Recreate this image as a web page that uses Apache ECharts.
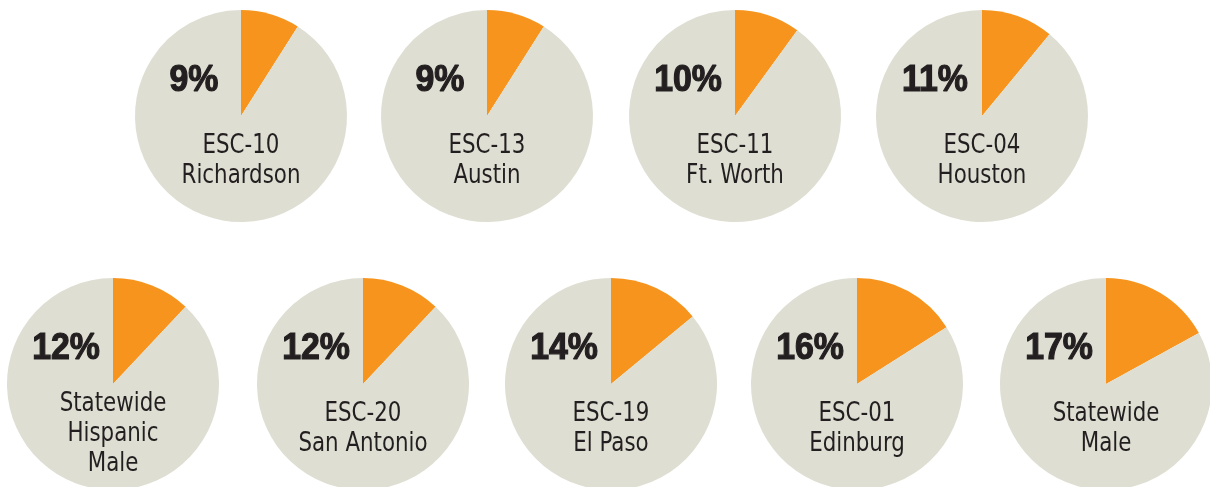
<!DOCTYPE html>
<html>
<head>
<meta charset="utf-8">
<script src="https://cdn.jsdelivr.net/npm/echarts@6/dist/echarts.min.js"></script>
<style>
  html, body { margin: 0; padding: 0; background: #fff; }
  #chart { width: 1210px; height: 487px; }
</style>
</head>
<body>
<div id="chart"></div>
<script>
// share of each group (percent)
const regions = [
  'ESC-10\nRichardson', 'ESC-13\nAustin', 'ESC-11\nFt. Worth', 'ESC-04\nHouston',
  'Statewide\nHispanic\nMale', 'ESC-20\nSan Antonio', 'ESC-19\nEl Paso', 'ESC-01\nEdinburg', 'Statewide\nMale'
];
const shares = [9, 9, 10, 11, 12, 12, 14, 16, 17];

// layout of the pies
const centersX = [241, 487, 735, 982, 113, 363, 611, 857, 1106];
const centersY = [116, 116, 116, 116, 384, 384, 384, 384, 384];
const radius = 106;

const ORANGE = '#F7941D';
const GREY = '#DEDED2';
const INK = '#231F20';

const chart = echarts.init(document.getElementById('chart'));

const series = shares.map((v, i) => ({
  type: 'pie',
  center: [centersX[i], centersY[i]],
  radius: radius,
  startAngle: 90,
  clockwise: true,
  silent: true,
  label: { show: false },
  labelLine: { show: false },
  emphasis: { disabled: true },
  data: [
    { value: v, name: regions[i], itemStyle: { color: ORANGE } },
    { value: 100 - v, name: 'rest', itemStyle: { color: GREY } }
  ]
}));

const graphics = [];
shares.forEach((v, i) => {
  graphics.push({
    type: 'text',
    z: 100,
    x: centersX[i] - 47,
    y: centersY[i] - 35,
    scaleX: 0.94,
    style: {
      text: v + '%',
      fill: INK,
      stroke: INK,
      lineWidth: 1.2,
      font: 'bold 36px "Liberation Sans", Arial, sans-serif',
      align: 'center',
      verticalAlign: 'middle'
    }
  });
  const lines = regions[i].split('\n').length;
  graphics.push({
    type: 'text',
    z: 100,
    x: centersX[i],
    y: centersY[i] + 15 - (lines - 2) * 10,
    scaleX: 0.88,
    style: {
      text: regions[i],
      fill: INK,
      font: '27px "Liberation Sans Narrow", "DejaVu Sans Condensed", sans-serif',
      lineHeight: 30,
      align: 'center',
      verticalAlign: 'top'
    }
  });
});

chart.setOption({
  animation: false,
  backgroundColor: '#fff',
  series: series,
  graphic: { elements: graphics }
});
</script>
</body>
</html>
